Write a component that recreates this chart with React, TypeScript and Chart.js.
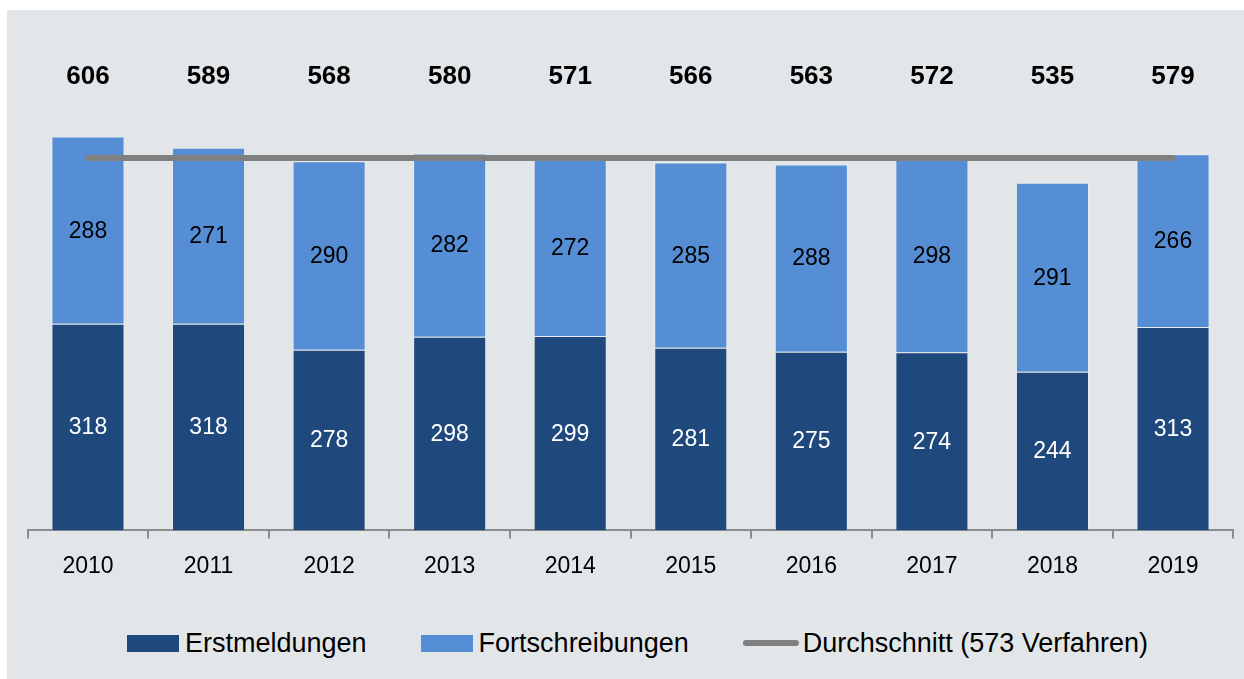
import React, { useEffect, useRef } from "react";
import { Chart, registerables } from "chart.js";

Chart.register(...registerables);

const years = ["2010", "2011", "2012", "2013", "2014", "2015", "2016", "2017", "2018", "2019"];
const erstmeldungen = [318, 318, 278, 298, 299, 281, 275, 274, 244, 313];
const fortschreibungen = [288, 271, 290, 282, 272, 285, 288, 298, 291, 266];
const totals = [606, 589, 568, 580, 571, 566, 563, 572, 535, 579];
const durchschnitt = [573, 573, 573, 573, 573, 573, 573, 573, 573, 573];

const seriesNames = ["Erstmeldungen", "Fortschreibungen", "Durchschnitt (573 Verfahren)"];

const DARK = "#1f497d";
const LIGHT = "#558ed5";
const GRAY = "#808080";
const BG = "#e3e6e8";
const FONT = "'Liberation Sans', Arial, sans-serif";
const TOTAL_LABEL_LEVEL = 698;

const labelPlugin = {
  id: "valueLabels",
  afterDatasetsDraw(chart: any) {
    const ctx = chart.ctx;
    ctx.save();
    ctx.textAlign = "center";
    ctx.textBaseline = "middle";
    ctx.font = `23px ${FONT}`;
    [0, 1].forEach((di) => {
      const meta = chart.getDatasetMeta(di);
      const values = di === 0 ? erstmeldungen : fortschreibungen;
      ctx.fillStyle = di === 0 ? "#ffffff" : "#000000";
      meta.data.forEach((bar: any, i: number) => {
        const p = bar.getCenterPoint();
        ctx.fillText(String(values[i]), p.x, p.y + 1);
      });
    });
    ctx.font = `bold 26px ${FONT}`;
    ctx.fillStyle = "#000000";
    const yScale = chart.scales.y;
    const meta0 = chart.getDatasetMeta(0);
    meta0.data.forEach((bar: any, i: number) => {
      ctx.fillText(String(totals[i]), bar.x, yScale.getPixelForValue(TOTAL_LABEL_LEVEL));
    });
    ctx.restore();
  },
};

export default function App() {
  const ref = useRef<HTMLCanvasElement | null>(null);

  useEffect(() => {
    if (!ref.current) return;
    const chart = new Chart(ref.current, {
      type: "bar",
      data: {
        labels: years,
        datasets: [
          {
            type: "bar",
            label: seriesNames[0],
            data: erstmeldungen,
            backgroundColor: DARK,
            borderColor: "rgba(255,255,255,0.22)",
            borderWidth: 1,
            stack: "main",
            order: 1,
            barPercentage: 0.606,
            categoryPercentage: 1,
          },
          {
            type: "bar",
            label: seriesNames[1],
            data: fortschreibungen,
            backgroundColor: LIGHT,
            borderColor: "rgba(255,255,255,0.22)",
            borderWidth: 1,
            stack: "main",
            order: 1,
            barPercentage: 0.606,
            categoryPercentage: 1,
          },
          {
            type: "line",
            label: seriesNames[2],
            data: durchschnitt,
            borderColor: GRAY,
            backgroundColor: GRAY,
            borderWidth: 6,
            borderCapStyle: "round",
            pointRadius: 0,
            fill: false,
            stack: "avg",
            order: 0,
          } as any,
        ],
      },
      options: {
        responsive: false,
        animation: false,
        layout: { padding: { left: 20.7, right: 10.7, top: 20, bottom: 0 } },
        font: { family: FONT },
        plugins: {
          legend: { display: false },
          tooltip: { enabled: false },
        },
        scales: {
          x: {
            stacked: true,
            offset: true,
            grid: {
              display: true,
              drawOnChartArea: false,
              drawTicks: true,
              tickLength: 8,
              offset: true,
              color: "#8c8c8c",
              lineWidth: 2,
            },
            border: { display: true, color: "#8c8c8c", width: 2 },
            ticks: { color: "#000000", font: { size: 23, family: FONT }, padding: 14 },
          },
          y: {
            display: false,
            stacked: true,
            min: 0,
            max: 770,
          },
        },
      } as any,
      plugins: [labelPlugin],
    });
    return () => chart.destroy();
  }, []);

  const legendText: React.CSSProperties = {
    fontFamily: FONT,
    fontSize: 27,
    color: "#000",
    whiteSpace: "nowrap",
    lineHeight: "30px",
  };

  return (
    <div
      style={{
        position: "absolute",
        left: 7,
        top: 10,
        width: 1237,
        height: 669,
        background: BG,
        overflow: "hidden",
      }}
    >
      <canvas ref={ref} width={1237} height={584} style={{ position: "absolute", left: 0, top: 0 }} />
      <div
        style={{
          position: "absolute",
          left: 120,
          top: 618,
          height: 30,
          display: "flex",
          alignItems: "center",
          gap: 54,
        }}
      >
        <div style={{ display: "flex", alignItems: "center" }}>
          <span style={{ width: 52, height: 17, background: DARK, marginRight: 6, display: "inline-block" }} />
          <span style={legendText}>{seriesNames[0]}</span>
        </div>
        <div style={{ display: "flex", alignItems: "center" }}>
          <span style={{ width: 52, height: 17, background: LIGHT, marginRight: 6, display: "inline-block" }} />
          <span style={legendText}>{seriesNames[1]}</span>
        </div>
        <div style={{ display: "flex", alignItems: "center" }}>
          <span
            style={{
              width: 56,
              height: 6,
              background: GRAY,
              borderRadius: 3,
              marginRight: 4,
              display: "inline-block",
            }}
          />
          <span style={legendText}>{seriesNames[2]}</span>
        </div>
      </div>
    </div>
  );
}
